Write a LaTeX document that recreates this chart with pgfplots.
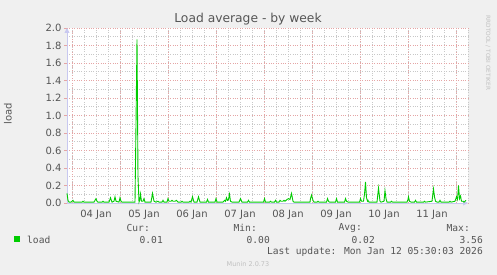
\documentclass[border=0pt]{standalone}
\usepackage{pgfplots}
\pgfplotsset{compat=1.18}
\usepackage{fontspec}
\setmainfont{DejaVu Sans}
\newfontfamily\mono{DejaVu Sans Mono}
\usetikzlibrary{arrows.meta}
\definecolor{bg}{HTML}{F0F0F0}
\definecolor{txt}{HTML}{555555}
\definecolor{majgrid}{HTML}{E5A5A5}
\definecolor{mingrid}{HTML}{C8C8C8}
\definecolor{axcol}{HTML}{C8C8F0}
\definecolor{ldgreen}{HTML}{00CC00}
\definecolor{faint}{HTML}{C0C0C0}
\begin{document}
\begin{tikzpicture}
\fill[bg] (0pt,0pt) rectangle (497pt,275pt);
\useasboundingbox (0pt,0pt) rectangle (497pt,275pt);
\begin{axis}[
  at={(67pt,72pt)}, anchor=south west,
  scale only axis, width=401pt, height=175pt,
  xmin=-2.5, xmax=198, ymin=0, ymax=2,
  axis background/.style={fill=white},
  axis x line=bottom, axis y line=left,
  axis line style={draw=axcol, line width=0.8pt},
  x axis line style={-{Triangle[length=5pt,width=5pt]}},
  y axis line style={-{Triangle[length=5pt,width=5pt]}},
  xtick={12,36,60,84,108,132,156,180},
  xticklabels={04 Jan,05 Jan,06 Jan,07 Jan,08 Jan,09 Jan,10 Jan,11 Jan},
  major x tick style={draw=none},
  extra x ticks={0,24,48,72,96,120,144,168,192},
  extra x tick labels={},
  extra x tick style={grid=major, major grid style={draw=majgrid, dotted, line width=0.6pt}, major tick length=3pt, tick style={draw=majgrid}, tick pos=bottom, tick align=outside},
  minor xtick={-0,6,...,198},
  xminorgrids, 
  minor grid style={draw=mingrid, dotted, line width=0.6pt},
  minor x tick style={draw=none},
  ytick={0,0.2,...,2.01},
  minor y tick num=1,
  ymajorgrids, yminorgrids,
  major grid style={draw=majgrid, dotted, line width=0.6pt},
  major y tick style={draw=majgrid},
  minor y tick style={draw=none},
  tick align=outside, major tick length=3pt,
  yticklabel style={/pgf/number format/fixed, /pgf/number format/fixed zerofill, /pgf/number format/precision=1, font=\fontsize{10}{11}\selectfont, text=txt, xshift=1pt},
  xticklabel style={font=\fontsize{10}{11}\selectfont, text=txt, yshift=-1pt},
  /pgf/number format/assume math mode=true,
  clip=false,
]
\addplot[draw=ldgreen, line width=0.9pt, mark=none] coordinates {
(-2.5,0.11) (-2,0.03) (-1.5,0.01) (-0.5,0.01) (0,0.02) (0.5,0.03) (1,0.01) (5,0.01) (5.5,0.02)(6,0.01) (11,0.01) (11.5,0.03)(12,0.05)(12.5,0.02)(13,0.01) (15,0.01)(15.5,0.02)(16,0.01) (18.5,0.01)(19.25,0.06)(20,0.01)(21,0.02)(21.5,0.07)(22,0.02)(23.5,0.01)(24,0.06)(24.5,0.02)(25,0.01) (31.5,0.01)(32,0.9)(32.5,1.87)(33,0.3)(33.5,0.01)(34,0.04)(34.25,0.10)(34.75,0.02)(35.5,0.02)(36,0.05)(36.5,0.01)(39.5,0.01)(40.25,0.11)(41,0.02)(42,0.01)(43,0.02)(43.5,0.01)(45,0.01)(45.5,0.03)(46,0.01)(47.5,0.01)(48,0.05)(48.5,0.02)(49.5,0.02)(50,0.03)(50.5,0.02)(51.5,0.02)(52.25,0.03)(53,0.01)(54.5,0.01)(55,0.02)(55.5,0.01)(58.5,0.01)(59,0.02)(59.5,0.01)(60.25,0.07)(61,0.01)(62.5,0.01)(63.25,0.07)(64,0.01)(67.25,0.01)(67.75,0.04)(68.25,0.01)(71.5,0.01)(72,0.05)(72.5,0.01)(75.5,0.01)(76.25,0.03)(76.75,0.02)(77.25,0.06)(77.75,0.03)(78.25,0.04)(78.75,0.10)(79.25,0.02)(80,0.01)(83.5,0.01)(84.25,0.05)(85,0.01)(87.75,0.01)(88.25,0.03)(88.75,0.01)(95.75,0.01)(96.25,0.05)(96.75,0.01)(98.75,0.01)(99.25,0.02)(99.75,0.01)(101.25,0.01)(101.75,0.03)(102.25,0.01)(103.5,0.01)(104,0.03)(104.5,0.02)(105.5,0.02)(106,0.03)(106.5,0.02)(107.5,0.04)(108.25,0.05)(109,0.04)(109.75,0.11)(110.5,0.02)(111,0.01)(119,0.01)(119.25,0.05)(119.75,0.09)(120.5,0.03)(121,0.01)(122.5,0.01)(123,0.02)(123.5,0.01)(127.25,0.01)(127.75,0.05)(128.25,0.02)(128.75,0.01)(131.75,0.01)(132.25,0.05)(132.75,0.01)(136.25,0.01)(136.75,0.05)(137.25,0.02)(138,0.01)(143.75,0.01)(144.25,0.05)(144.75,0.02)(145.75,0.02)(146.25,0.10)(146.75,0.24)(147.25,0.06)(147.75,0.02)(148,0.03)(148.5,0.01)(152.5,0.01)(153.25,0.17)(154,0.02)(154.5,0.01)(156,0.02)(156.5,0.14)(157,0.05)(157.5,0.01)(159.25,0.01)(159.75,0.02)(160.25,0.01)(167.5,0.01)(168,0.04)(168.25,0.07)(168.75,0.02)(169.5,0.01)(171.25,0.01)(171.75,0.03)(172.25,0.01)(175.75,0.01)(176.25,0.02)(176.75,0.01)(180,0.02)(180.75,0.16)(181.25,0.07)(181.75,0.02)(182.5,0.01)(183.5,0.01)(184,0.03)(184.5,0.01)(188.5,0.01)(189,0.02)(189.5,0.01)(191.5,0.02)(192.25,0.07)(192.75,0.04)(193.25,0.20)(193.75,0.05)(194.25,0.08)(194.75,0.02)(195.5,0.02)(196,0.01)(196.5,0.02)(197,0.03)
};
\end{axis}
% y label
\node[text=txt, font=\fontsize{10}{11}\selectfont, rotate=90] at (8pt,161pt) {load};
% title
\node[text=txt, font=\fontsize{12.3}{13}\selectfont] at (248pt,256pt) {Load average - by week};
% vertical credit
\node[text=faint, font=\fontsize{5.8}{6}\selectfont, rotate=-90] at (488pt,222pt) {RRDTOOL / TOBI OETIKER};
% legend
\fill[ldgreen] (14pt,33pt) rectangle (20pt,39pt);
\begin{scope}[every node/.style={text=txt, font=\mono\fontsize{9.6}{10}\selectfont, inner sep=0pt}]
\node[anchor=west] at (27pt,35pt) {load};
\node[anchor=east] at (150pt,47pt) {Cur:};
\node[anchor=east] at (257pt,47pt) {Min:};
\node[anchor=east] at (362pt,47pt) {Avg:};
\node[anchor=east] at (470pt,47pt) {Max:};
\node[anchor=east] at (163pt,35pt) {0.01};
\node[anchor=east] at (270pt,35pt) {0.00};
\node[anchor=east] at (375pt,35pt) {0.02};
\node[anchor=east] at (483pt,35pt) {3.56};
\node[anchor=east] at (483pt,23pt) {Last update: Mon Jan 12 05:30:03 2026};
\end{scope}
\node[text=faint, font=\fontsize{6.5}{7}\selectfont] at (248pt,11pt) {Munin 2.0.73};
\end{tikzpicture}
\end{document}
